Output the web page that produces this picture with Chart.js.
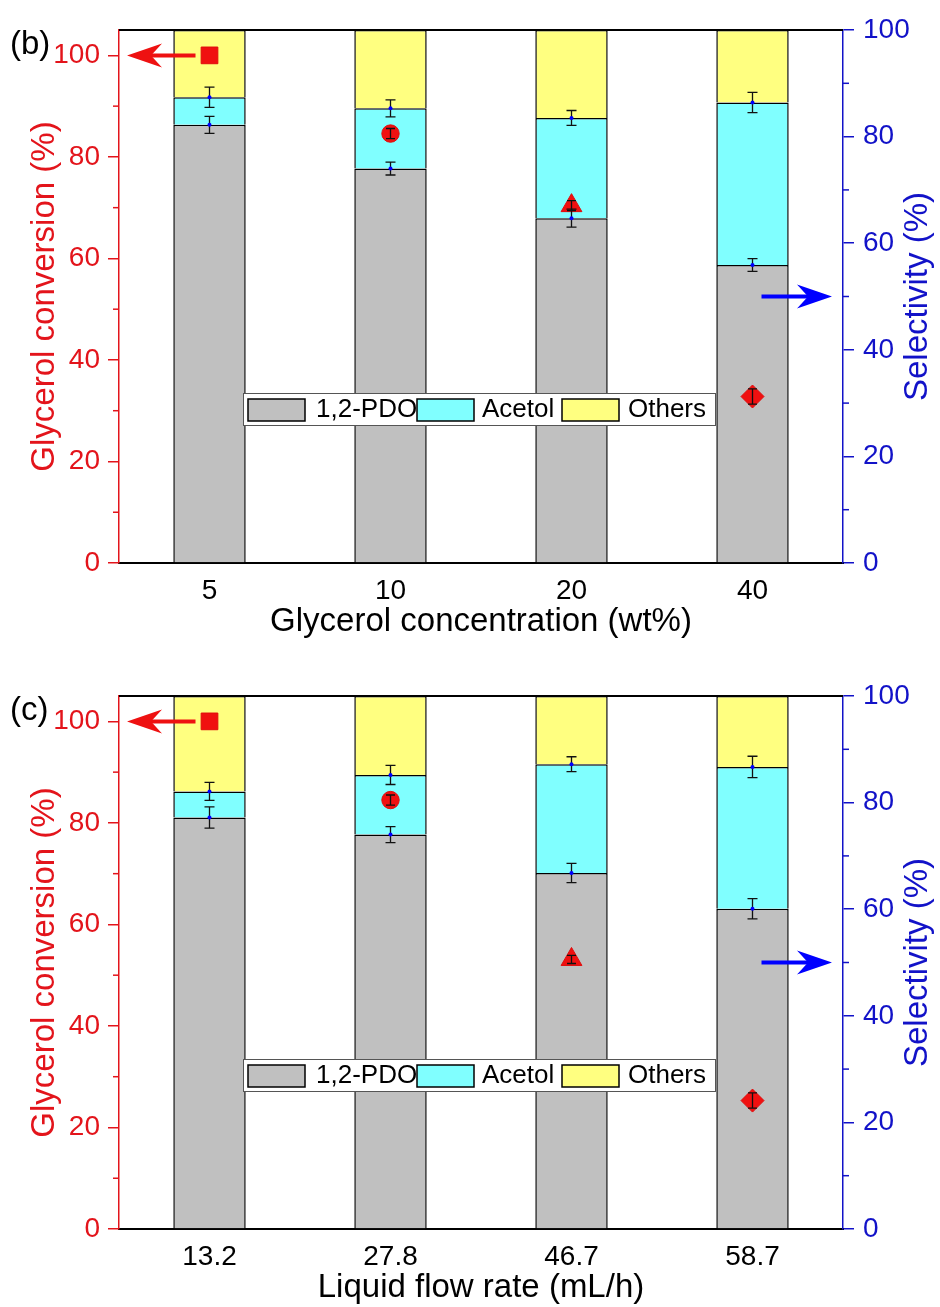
<!DOCTYPE html>
<html>
<head>
<meta charset="utf-8">
<script src="https://cdn.jsdelivr.net/npm/chart.js@4.4.1/dist/chart.umd.min.js"></script>
<style>
  html, body { margin: 0; padding: 0; background: #fff; overflow: hidden; }
  body { width: 940px; height: 1307px; position: relative; }
  canvas { position: absolute; left: 0; }
</style>
</head>
<body>
<canvas id="chartB" width="940" height="645" style="top:0px"></canvas>
<canvas id="chartC" width="940" height="645" style="top:666px"></canvas>
<script>
const concLabels = ["5", "10", "20", "40"]
const flowLabels = ["13.2", "27.8", "46.7", "58.7"]
const seriesNames = ["1,2-PDO", "Acetol", "Others"]

// (b) glycerol concentration, selectivity (%) and conversion (%)
const pdoB = [82.2, 74.0, 64.7, 55.9]
const acetolB = [5.2, 11.3, 18.8, 30.5]
const othersB = [12.6, 14.7, 16.5, 13.6]
const pdoErrB = [1.6, 1.2, 1.7, 1.2]
const acetolErrB = [1.9, 1.6, 1.4, 1.9]
const convB = [100, 84.6, 70.4, 32.8]
const convErrB = [0, 1.0, 1.0, 1.5]

// (c) liquid flow rate
const pdoC = [77.2, 74.0, 66.8, 60.1]
const acetolC = [4.9, 11.2, 20.4, 26.6]
const othersC = [17.9, 14.8, 12.8, 13.3]
const pdoErrC = [2.0, 1.5, 1.8, 1.9]
const acetolErrC = [1.7, 1.8, 1.4, 2.0]
const convC = [100, 84.5, 53.1, 25.3]
const convErrC = [0, 1.0, 0.8, 1.5]

const markerStyles = ["rect", "circle", "triangle", "rectRot"]
const markerSizes = [11.8, 8.7, 12, 11.5]

const RED = "#e3141b"
const BLUE = "#1212c8"
const FONT = "'Liberation Sans', Arial, sans-serif"
Chart.defaults.font.family = FONT

function errBar(ctx, x, yLo, yHi, half) {
  ctx.beginPath()
  ctx.moveTo(x, yLo); ctx.lineTo(x, yHi)
  ctx.moveTo(x - half, yLo); ctx.lineTo(x + half, yLo)
  ctx.moveTo(x - half, yHi); ctx.lineTo(x + half, yHi)
  ctx.stroke()
}

function arrow(ctx, x0, x1, yy, color) {
  const dir = x1 > x0 ? 1 : -1
  ctx.strokeStyle = color
  ctx.fillStyle = color
  ctx.lineWidth = 4
  ctx.beginPath()
  ctx.moveTo(x0, yy); ctx.lineTo(x1 - dir * 22, yy)
  ctx.stroke()
  ctx.beginPath()
  ctx.moveTo(x1, yy)
  ctx.lineTo(x1 - dir * 35, yy - 12)
  ctx.lineTo(x1 - dir * 24, yy)
  ctx.lineTo(x1 - dir * 35, yy + 12)
  ctx.closePath()
  ctx.fill()
}

const extras = {
  id: "extras",
  afterDatasetsDraw(chart, args, o) {
    const {ctx, scales: {x, y, y1}} = chart
    ctx.save()
    ctx.strokeStyle = "#111"
    ctx.lineWidth = 1.3
    o.pdo.forEach((p, i) => {
      const px = x.getPixelForValue(i)
      const tops = [p, p + o.acetol[i]]
      const errs = [o.pdoErr[i], o.acetolErr[i]]
      tops.forEach((t, k) => {
        errBar(ctx, px, y1.getPixelForValue(t - errs[k]), y1.getPixelForValue(t + errs[k]), 5)
        ctx.fillStyle = "#0000ff"
        ctx.beginPath()
        ctx.arc(px, y1.getPixelForValue(t), 2, 0, Math.PI * 2)
        ctx.fill()
      })
      if (o.convErr[i] > 0) {
        errBar(ctx, px, y.getPixelForValue(o.conv[i] - o.convErr[i]), y.getPixelForValue(o.conv[i] + o.convErr[i]), 4.5)
      }
    })
    ctx.restore()
  },
  afterDraw(chart, args, o) {
    const {ctx, chartArea: a, scales: {x, y, y1}} = chart
    ctx.save()
    // frame top
    ctx.strokeStyle = "#000"
    ctx.lineWidth = 2
    ctx.beginPath()
    ctx.moveTo(a.left, a.top); ctx.lineTo(a.right, a.top)
    ctx.stroke()
    // minor ticks
    ctx.lineWidth = 1.5
    ;[10, 30, 50, 70, 90].forEach(v => {
      ctx.strokeStyle = RED
      ctx.beginPath()
      ctx.moveTo(a.left, y.getPixelForValue(v)); ctx.lineTo(a.left - 6, y.getPixelForValue(v))
      ctx.stroke()
      ctx.strokeStyle = BLUE
      ctx.beginPath()
      ctx.moveTo(a.right, y1.getPixelForValue(v)); ctx.lineTo(a.right + 6, y1.getPixelForValue(v))
      ctx.stroke()
    })
    // arrows pointing to the axes
    arrow(ctx, x.getPixelForValue(0) - 14, a.left + 8, y.getPixelForValue(100), "#ee1111")
    arrow(ctx, x.getPixelForValue(3) + 9, a.right - 11, y1.getPixelForValue(50), "#0000ff")
    // legend inside the plot
    const lx = a.left + 124, ly = a.top + 363
    ctx.fillStyle = "#fff"
    ctx.fillRect(lx, ly, 472, 32)
    ctx.strokeStyle = "#555"
    ctx.lineWidth = 1
    ctx.strokeRect(lx + 0.5, ly + 0.5, 472, 32)
    const swX = [5, 174, 319], txX = [73, 239, 385]
    ctx.font = "26px " + FONT
    ctx.textBaseline = "middle"
    ctx.textAlign = "left"
    chart.data.datasets.filter(d => d.type !== "line").forEach((d, k) => {
      ctx.fillStyle = d.backgroundColor
      ctx.fillRect(lx + swX[k], ly + 6, 57, 22)
      ctx.strokeStyle = "#000"
      ctx.lineWidth = 1.5
      ctx.strokeRect(lx + swX[k], ly + 6, 57, 22)
      ctx.fillStyle = "#000"
      ctx.fillText(d.label, lx + txX[k], ly + 17)
    })
    // right axis title, reading bottom to top
    ctx.translate(918, (a.top + a.bottom) / 2)
    ctx.rotate(-Math.PI / 2)
    ctx.textAlign = "center"
    ctx.fillStyle = BLUE
    ctx.font = "33px " + FONT
    ctx.fillText("Selectivity (%)", 0, 0)
    ctx.restore()
    // panel label
    ctx.save()
    ctx.fillStyle = "#000"
    ctx.font = "33px " + FONT
    ctx.textBaseline = "alphabetic"
    ctx.textAlign = "left"
    ctx.fillText(o.panel, 10, 54)
    ctx.restore()
  }
}

function makeChart(id, labels, xTitle, d) {
  const ctx = document.getElementById(id).getContext("2d")
  const bar = (label, data, color) => ({
    label, data, yAxisID: "y1", backgroundColor: color,
    borderColor: "#000", borderWidth: 1.5, order: 1
  })
  return new Chart(ctx, {
    type: "bar",
    data: {
      labels: labels,
      datasets: [
        {
          type: "line", label: "Glycerol conversion", data: d.conv, yAxisID: "y",
          showLine: false, pointStyle: markerStyles, pointRadius: markerSizes,
          backgroundColor: "#f01010", borderColor: "#e00c0c", borderWidth: 1, order: 0
        },
        bar(seriesNames[0], d.pdo, "#c0c0c0"),
        bar(seriesNames[1], d.acetol, "#80ffff"),
        bar(seriesNames[2], d.others, "#ffff80")
      ]
    },
    options: {
      responsive: false,
      animation: false,
      layout: {padding: {top: 30, left: 0, right: 0, bottom: 0}},
      datasets: {bar: {categoryPercentage: 1, barPercentage: 0.4}},
      plugins: {
        legend: {display: false},
        tooltip: {enabled: false},
        extras: d
      },
      scales: {
        x: {
          stacked: true,
          grid: {display: false, drawTicks: false},
          border: {display: true, color: "#000", width: 2},
          ticks: {color: "#000", font: {size: 28}, padding: 11},
          title: {display: true, text: xTitle, color: "#000", font: {size: 33}, padding: {top: 0, bottom: 3}},
          afterFit: s => { s.height = 82 }
        },
        y: {
          position: "left", min: 0, max: 105,
          grid: {drawOnChartArea: false, color: RED, tickLength: 11, lineWidth: 1.5},
          border: {color: RED, width: 1.5},
          ticks: {stepSize: 20, includeBounds: false, color: RED, font: {size: 28}, padding: 8},
          title: {display: true, text: "Glycerol conversion (%)", color: RED, font: {size: 33}, padding: {top: 25, bottom: 0}},
          afterFit: s => { s.width = 119 }
        },
        y1: {
          position: "right", min: 0, max: 100, stacked: true,
          grid: {drawOnChartArea: false, color: BLUE, tickLength: 11, lineWidth: 1.5},
          border: {color: BLUE, width: 1.5},
          ticks: {stepSize: 20, color: BLUE, font: {size: 28}, padding: 9},
          afterFit: s => { s.width = 97 }
        }
      }
    },
    plugins: [extras]
  })
}

makeChart("chartB", concLabels, "Glycerol concentration (wt%)", {
  panel: "(b)", pdo: pdoB, acetol: acetolB, others: othersB,
  pdoErr: pdoErrB, acetolErr: acetolErrB, conv: convB, convErr: convErrB
})
makeChart("chartC", flowLabels, "Liquid flow rate (mL/h)", {
  panel: "(c)", pdo: pdoC, acetol: acetolC, others: othersC,
  pdoErr: pdoErrC, acetolErr: acetolErrC, conv: convC, convErr: convErrC
})
</script>
</body>
</html>
